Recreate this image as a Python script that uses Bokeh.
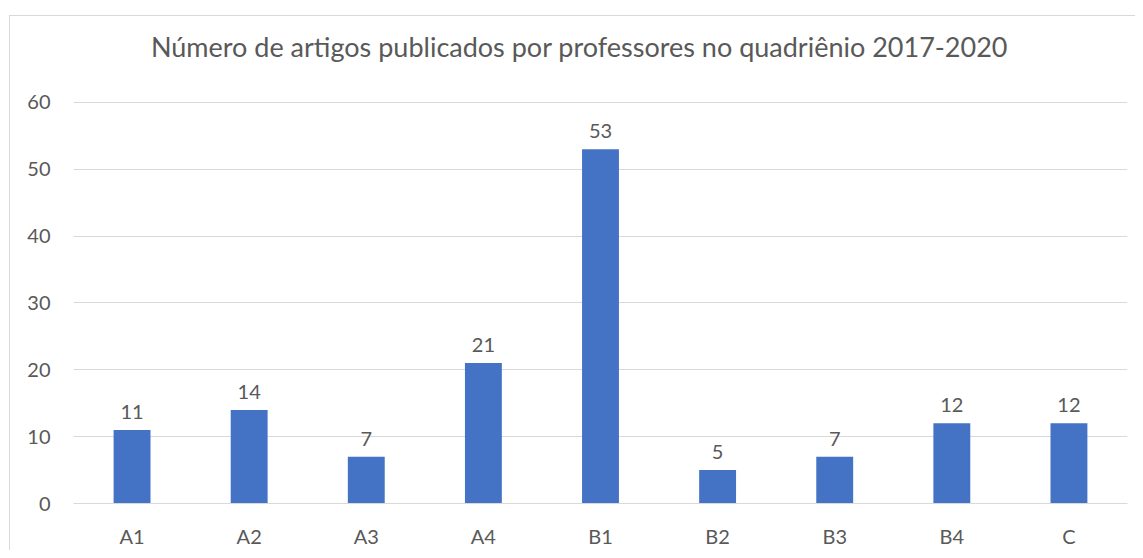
from bokeh.plotting import figure
from bokeh.models import ColumnDataSource, Range1d, FactorRange, InlineStyleSheet, Label
from bokeh.core.properties import value
from bokeh.embed import file_html
from bokeh.resources import INLINE

categories = ["A1", "A2", "A3", "A4", "B1", "B2", "B3", "B4", "C"]
counts = [11, 14, 7, 21, 53, 5, 7, 12, 12]
y_ticks = [0, 10, 20, 30, 40, 50, 60]
title_text = "Número de artigos publicados por professores no quadriênio 2017-2020"

FONT = "Lato"
TXT = "#595959"
GRID = "#d9d9d9"
BAR = "#4472C4"

# layout (pixels): plot frame spans the chart area from the top border down to the axis;
# the value axis 0..60 occupies the lower part (gridline 60 at y=102, 0 at y=504)
FRAME_TOP, AXIS_Y, GRID_TOP = 15, 504, 102
y_max = y_ticks[-1] * (AXIS_Y - FRAME_TOP) / (AXIS_Y - GRID_TOP)

src = ColumnDataSource(dict(cat=categories, val=counts, lab=[str(v) for v in counts]))

border_css = InlineStyleSheet(css="""
:host::after {
  content: "";
  position: absolute;
  left: 9px; top: 15px; right: 0px; bottom: 0px;
  border-left: 1px solid #d9d9d9;
  border-top: 1px solid #d9d9d9;
  pointer-events: none;
}
""")

p = figure(width=1135, height=550, output_backend="svg", toolbar_location=None,
           x_range=FactorRange(factors=categories, range_padding=0),
           y_range=Range1d(0, y_max),
           min_border_left=73, min_border_right=8, min_border_top=FRAME_TOP,
           min_border_bottom=550 - AXIS_Y,
           stylesheets=[border_css])
p.outline_line_color = None
p.background_fill_color = "white"
p.border_fill_color = "white"

p.vbar(x="cat", top="val", width=0.315, source=src, fill_color=BAR, line_color=None)
p.text(x="cat", y="val", text="lab", source=src, text_align="center", text_baseline="alphabetic",
       y_offset=-18, text_font=value(FONT), text_font_size="20px", text_color=TXT)

p.ygrid.grid_line_color = GRID
p.ygrid.grid_line_width = 1
p.xgrid.grid_line_color = None
p.yaxis.ticker = y_ticks
p.yaxis.axis_line_color = None
p.yaxis.major_tick_line_color = None
p.yaxis.minor_tick_line_color = None
p.yaxis.major_tick_out = 0
p.yaxis.major_label_standoff = 23
p.yaxis.major_label_text_font = FONT
p.yaxis.major_label_text_font_size = "20px"
p.yaxis.major_label_text_color = TXT

p.xaxis.axis_line_color = GRID
p.xaxis.major_tick_line_color = None
p.xaxis.minor_tick_line_color = None
p.xaxis.major_tick_out = 0
p.xaxis.major_label_standoff = 20
p.xaxis.major_label_text_font = FONT
p.xaxis.major_label_text_font_size = "20px"
p.xaxis.major_label_text_color = TXT

# chart title (screen units are relative to the frame: x from left, y up from bottom)
p.add_layout(Label(x=579 - 73, y=AXIS_Y - 47, x_units="screen", y_units="screen",
                   text=title_text, text_align="center", text_baseline="alphabetic",
                   text_font=FONT, text_font_size="27px", text_color=TXT))

open("out.html", "w").write(file_html(p, INLINE))
